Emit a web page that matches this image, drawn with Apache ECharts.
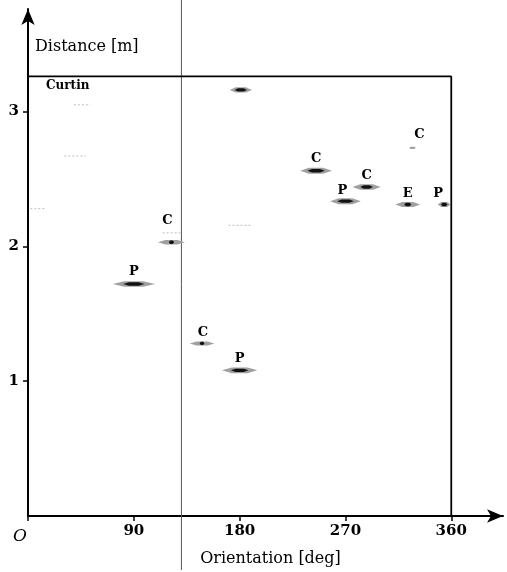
<!DOCTYPE html>
<html><head><meta charset="utf-8">
<script src="https://cdn.jsdelivr.net/npm/echarts@6/dist/echarts.min.js"></script>
<style>html,body{margin:0;padding:0;background:#fff}#c{width:507px;height:572px}</style>
</head><body><div id="c"></div>
<script>
// Detected features: orientation [deg], distance [m], angular spread [deg], label
const orient = [181, 245, 288, 270, 323, 354, 327, 122, 90, 148, 180];
const dist   = [3.16, 2.56, 2.44, 2.335, 2.31, 2.31, 2.73, 2.03, 1.72, 1.28, 1.08];
const spread = [19, 27, 24, 26, 21, 11, 6, 23, 36, 21, 30];
const labels = ['', 'C', 'C', 'P', 'E', 'P', 'C', 'C', 'P', 'C', 'P'];
// faint returns
const faintOrient = [122, 180, 46, 40, 8];
const faintDist   = [2.10, 2.155, 3.05, 2.67, 2.28];
const faintSpread = [15, 19, 14, 18, 12];
// Curtin box (wall outline) and cut line
const boxX = [0, 360, 360];
const boxY = [3.26, 3.26, 0];
const cutX = [130.5, 130.5];
const cutY = [-0.4, 3.9];
const xTicks = [0, 90, 180, 270, 360];
const yTicks = [1, 2, 3];

// styles (not data)
const coreFrac = [0.55, 0.55, 0.45, 0.55, 0.3, 0.5, 0, 0.2, 0.5, 0.2, 0.5];
const halo     = [2.6, 3, 2.8, 3, 2.4, 2.6, 1.2, 2.2, 2.8, 2, 2.8];
const labelDx  = [0, 0, 0, -3, 0, -6, 7, -4, 0, 1, 0];
const labelDy  = [12, 12, 11, 11, 11, 11, 13, 22, 12, 11, 12];

const SERIF = '"DejaVu Serif", serif';
const chart = echarts.init(document.getElementById('c'));

function lens(cx, cy, hw, h) {
  return [[cx - hw, cy], [cx - hw * 0.45, cy - h], [cx + hw * 0.45, cy - h],
          [cx + hw, cy], [cx + hw * 0.45, cy + h], [cx - hw * 0.45, cy + h]];
}

chart.setOption({
  animation: false,
  grid: { left: 28, right: 4, top: 9, bottom: 50 },
  xAxis: {
    type: 'value', min: 0, max: 404, interval: 90,
    name: 'Orientation [deg]', nameLocation: 'middle', nameGap: 35,
    nameTextStyle: { fontFamily: SERIF, fontSize: 16, color: '#000', padding: [0, 0, 0, 10] },
    axisLine: { show: true, symbol: ['none', 'arrow'], symbolSize: [10, 16], lineStyle: { color: '#000', width: 2 } },
    axisTick: { show: true, customValues: xTicks, length: 5, lineStyle: { color: '#000', width: 1.5 } },
    axisLabel: {
      customValues: xTicks, margin: 8, fontFamily: SERIF, fontSize: 15, fontWeight: 'bold', color: '#000',
      formatter: v => v === 0 ? '{o|O}' : (v % 90 === 0 ? String(v) : ''),
      rich: { o: { fontFamily: SERIF, fontStyle: 'italic', fontWeight: 'normal', fontSize: 17, color: '#000', padding: [4, 16, 0, 0] } }
    },
    splitLine: { show: false }
  },
  yAxis: {
    type: 'value', min: 0, max: 3.76, interval: 1,
    name: 'Distance [m]', nameLocation: 'end', nameGap: -38,
    nameTextStyle: { fontFamily: SERIF, fontSize: 16, color: '#000', align: 'left', verticalAlign: 'middle', padding: [0, 0, 0, 7] },
    axisLine: { show: true, symbol: ['none', 'arrow'], symbolSize: [10, 16], lineStyle: { color: '#000', width: 2 } },
    axisTick: { show: true, customValues: yTicks, length: 5, lineStyle: { color: '#000', width: 1.5 } },
    axisLabel: { customValues: yTicks, margin: 9, fontFamily: SERIF, fontSize: 15, fontWeight: 'bold', color: '#000',
      formatter: v => (yTicks.indexOf(v) >= 0 ? String(v) : '') },
    splitLine: { show: false }
  },
  series: [
    {
      type: 'line', data: boxX.map((x, i) => [x, boxY[i]]), symbol: 'none',
      lineStyle: { color: '#000', width: 1.8 }, silent: true, z: 3
    },
    {
      type: 'line', data: cutX.map((x, i) => [x, cutY[i]]), symbol: 'none', clip: false,
      lineStyle: { color: '#555', width: 1 }, silent: true, z: 2
    },
    {
      type: 'custom', clip: false, z: 4,
      data: faintOrient.map((x, i) => [x, faintDist[i], faintSpread[i]]),
      renderItem: (params, api) => {
        const x = api.value(0), y = api.value(1), s = api.value(2);
        const a = api.coord([x - s / 2, y]), b = api.coord([x + s / 2, y]);
        return { type: 'line', shape: { x1: a[0], y1: a[1], x2: b[0], y2: b[1] },
          style: { stroke: '#c8c8c8', lineWidth: 1.2, lineDash: [2, 2] } };
      }
    },
    {
      type: 'custom', clip: false, z: 5,
      data: orient.map((x, i) => [x, dist[i], spread[i]]),
      renderItem: (params, api) => {
        const i = params.dataIndex;
        const x = api.value(0), y = api.value(1), s = api.value(2);
        const a = api.coord([x - s / 2, y]), b = api.coord([x + s / 2, y]);
        const c = api.coord([x, y]);
        const hw = (b[0] - a[0]) / 2;
        const children = [
          { type: 'polygon', shape: { points: lens(c[0], c[1], hw, halo[i]) }, style: { fill: '#a0a0a0' } }
        ];
        if (coreFrac[i] > 0) {
          children.push({ type: 'polygon', shape: { points: lens(c[0], c[1], hw * coreFrac[i], 1.7) }, style: { fill: '#111' } });
        }
        if (labels[i]) {
          children.push({ type: 'text', style: { text: labels[i], x: c[0] + labelDx[i], y: c[1] - labelDy[i],
            align: 'center', verticalAlign: 'middle', font: 'bold 13px ' + SERIF, fill: '#000' } });
        }
        return { type: 'group', children };
      }
    }
  ],
  graphic: [
    { type: 'text', left: 46, top: 80, style: { text: 'Curtin', font: 'bold 12px ' + SERIF, fill: '#000' } }
  ]
});
</script></body></html>
